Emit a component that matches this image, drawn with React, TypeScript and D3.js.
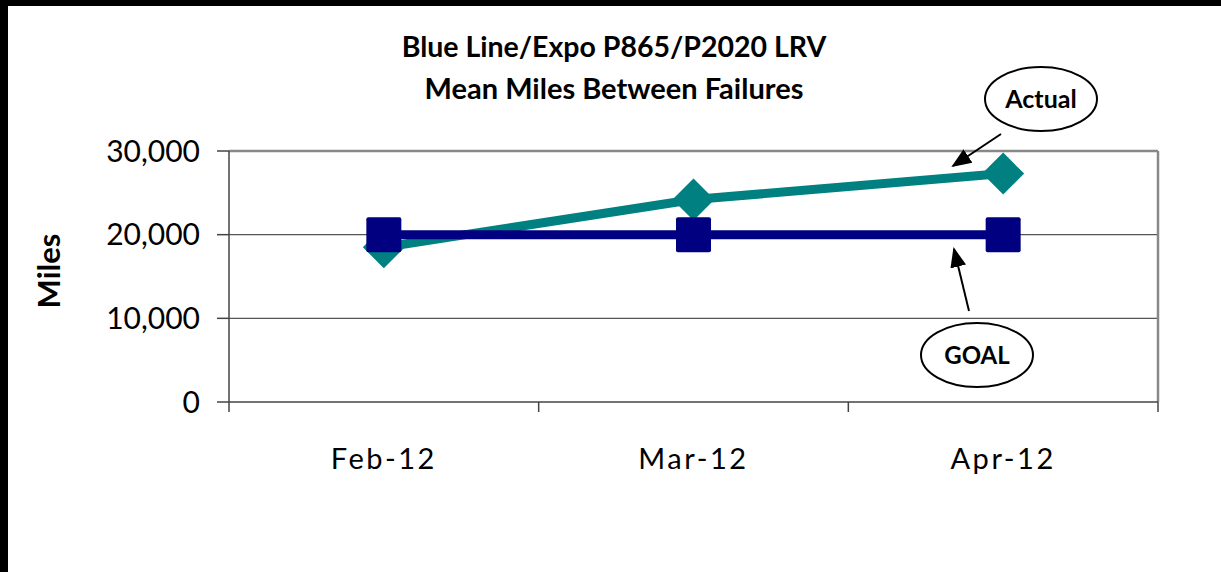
import React from "react";
import * as d3 from "d3";

const categories = ["Feb-12", "Mar-12", "Apr-12"];
const actualValues = [18500, 24200, 27300];
const goalValues = [20000, 20000, 20000];
const yTicks = [0, 10000, 20000, 30000];
const titleLines = ["Blue Line/Expo P865/P2020 LRV", "Mean Miles Between Failures"];

const W = 1221;
const H = 572;
const FONT = "Lato, 'Open Sans', sans-serif";

export default function App() {
  const plot = { left: 229, right: 1158, top: 151, bottom: 402 };
  const x = d3.scaleBand<string>().domain(categories).range([plot.left, plot.right]);
  const y = d3.scaleLinear().domain([0, 30000]).range([plot.bottom, plot.top]);
  const cx = (c: string) => (x(c) as number) + x.bandwidth() / 2;
  const line = d3
    .line<number>()
    .x((_, i) => cx(categories[i]))
    .y((d) => y(d));
  const fmt = d3.format(",");
  const bandEdges = [plot.left, ...categories.map((c) => (x(c) as number) + x.bandwidth())];

  return (
    <div style={{ position: "absolute", left: 0, top: 0 }}>
      <svg width={W} height={H} style={{ display: "block", background: "#fff" }}>
        <defs>
          <marker id="arrowBig" viewBox="0 0 10 10" refX="9" refY="5" markerWidth="20" markerHeight="20" orient="auto" markerUnits="userSpaceOnUse">
            <path d="M0,1 L10,5 L0,9 z" fill="#000" />
          </marker>
        </defs>
        <rect x={0} y={0} width={W} height={H} fill="#fff" />
        {/* black frame edges */}
        <rect x={0} y={0} width={8} height={H} fill="#000" />
        <rect x={0} y={0} width={W} height={6} fill="#000" />

        {/* title */}
        {titleLines.map((t, i) => (
          <text key={t} x={614} y={57 + i * 42} textAnchor="middle" fontFamily={FONT} fontWeight="bold" fontSize={i === 0 ? 28.5 : 29} fill="#000">
            {t}
          </text>
        ))}

        {/* gridlines */}
        {yTicks.filter((v) => v > 0 && v < 30000).map((v) => (
          <line key={v} x1={plot.left} x2={plot.right} y1={y(v)} y2={y(v)} stroke="#555" strokeWidth={1.2} />
        ))}
        {/* plot border top/right */}
        <line x1={plot.left} x2={plot.right} y1={y(30000)} y2={y(30000)} stroke="#888" strokeWidth={2.5} />
        <line x1={plot.right} x2={plot.right} y1={plot.top} y2={plot.bottom} stroke="#888" strokeWidth={2.5} />

        {/* y axis */}
        <line x1={plot.left} x2={plot.left} y1={plot.top} y2={plot.bottom} stroke="#444" strokeWidth={1.5} />
        {yTicks.map((v) => (
          <g key={v}>
            <line x1={plot.left - 12} x2={plot.left} y1={y(v)} y2={y(v)} stroke="#444" strokeWidth={1.5} />
            <text x={200} y={y(v)} dy="0.36em" textAnchor="end" fontFamily={FONT} fontSize={30} fill="#000">
              {fmt(v)}
            </text>
          </g>
        ))}
        {/* x axis */}
        <line x1={plot.left} x2={plot.right} y1={plot.bottom} y2={plot.bottom} stroke="#444" strokeWidth={1.5} />
        {bandEdges.map((e, i) => (
          <line key={i} x1={e} x2={e} y1={plot.bottom} y2={plot.bottom + 10} stroke="#444" strokeWidth={1.5} />
        ))}
        {categories.map((c) => (
          <text key={c} x={cx(c)} y={469} textAnchor="middle" fontFamily={FONT} fontSize={29} letterSpacing={2.5} fill="#000">
            {c}
          </text>
        ))}

        {/* y axis title */}
        <text transform="translate(60,271) rotate(-90)" textAnchor="middle" fontFamily={FONT} fontWeight="bold" fontSize={31} fill="#000">
          Miles
        </text>

        {/* actual series */}
        <path d={line(actualValues) || ""} fill="none" stroke="#008080" strokeWidth={9} />
        {actualValues.map((v, i) => {
          const px = cx(categories[i]);
          const py = y(v);
          const r = 21;
          return <path key={i} d={`M${px},${py - r} L${px + r},${py} L${px},${py + r} L${px - r},${py} Z`} fill="#008080" />;
        })}

        {/* goal series */}
        <path d={line(goalValues) || ""} fill="none" stroke="#000080" strokeWidth={9} />
        {goalValues.map((v, i) => {
          const px = cx(categories[i]);
          const py = y(v);
          const s = 35;
          return <rect key={i} x={px - s / 2} y={py - s / 2} width={s} height={s} rx={2} fill="#000080" />;
        })}

        {/* annotations */}
        <ellipse cx={1041} cy={99} rx={56} ry={32} fill="#fff" stroke="#000" strokeWidth={2} />
        <text x={1041} y={99} dy="0.36em" textAnchor="middle" fontFamily={FONT} fontWeight="bold" fontSize={25} fill="#000">
          Actual
        </text>
        <line x1={1001} y1={134} x2={953} y2={166} stroke="#000" strokeWidth={2} markerEnd="url(#arrowBig)" />

        <ellipse cx={977} cy={355} rx={56} ry={32} fill="#fff" stroke="#000" strokeWidth={2} />
        <text x={977} y={355} dy="0.36em" textAnchor="middle" fontFamily={FONT} fontWeight="bold" fontSize={24} fill="#000">
          GOAL
        </text>
        <line x1={969} y1={311} x2={954} y2={249} stroke="#000" strokeWidth={2} markerEnd="url(#arrowBig)" />
      </svg>
    </div>
  );
}
